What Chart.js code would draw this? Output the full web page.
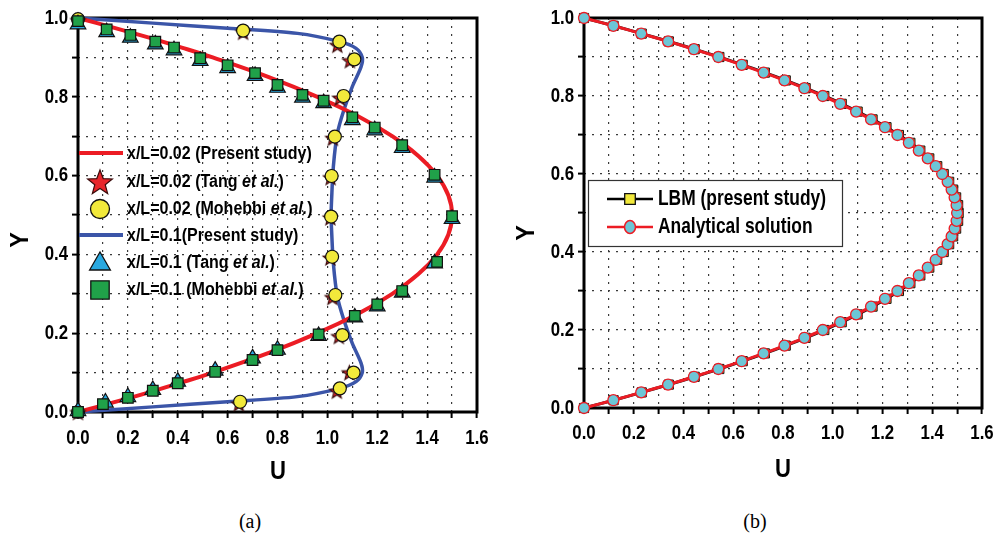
<!DOCTYPE html>
<html>
<head>
<meta charset="utf-8">
<script src="https://cdn.jsdelivr.net/npm/chart.js@4.4.0/dist/chart.umd.min.js"></script>
<style>
  body { margin: 0; background: #fff; width: 997px; height: 537px; position: relative; overflow: hidden; }
  .box { position: absolute; top: 0; height: 480px; }
  #boxA { left: 0; width: 500px; }
  #boxB { left: 505px; width: 492px; }
  .cap { position: absolute; top: 509px; width: 40px; text-align: center; line-height: 24px;
         font-family: 'Liberation Serif', 'DejaVu Serif', serif; font-size: 20px; color: #000; }
</style>
</head>
<body>
<div class="box" id="boxA"><canvas id="chartA"></canvas></div>
<div class="box" id="boxB"><canvas id="chartB"></canvas></div>
<div class="cap" style="left:230px">(a)</div>
<div class="cap" style="left:735px">(b)</div>

<script>
// ---------- data, panel (a) ----------
// x/L=0.02 present study (red curve)
const redU = [0, 0.146, 0.285, 0.416, 0.54, 0.765, 0.96, 1.125, 1.26, 1.365, 1.44, 1.485, 1.5,
              1.485, 1.44, 1.365, 1.26, 1.125, 0.96, 0.765, 0.54, 0.416, 0.285, 0.146, 0];
const redY = [0, 0.025, 0.05, 0.075, 0.1, 0.15, 0.2, 0.25, 0.3, 0.35, 0.4, 0.45, 0.5,
              0.55, 0.6, 0.65, 0.7, 0.75, 0.8, 0.85, 0.9, 0.925, 0.95, 0.975, 1.0];
// x/L=0.1 present study (blue curve)
const blueU = [0, 0.3, 0.6, 0.88, 1.05, 1.115, 1.14, 1.135, 1.10, 1.068, 1.04, 1.024, 1.017, 1.015,
               1.017, 1.024, 1.04, 1.068, 1.10, 1.135, 1.14, 1.115, 1.05, 0.88, 0.6, 0.3, 0];
const blueY = [1.0, 0.987, 0.974, 0.961, 0.94, 0.923, 0.9, 0.876, 0.826, 0.77, 0.707, 0.623, 0.54, 0.5,
               0.46, 0.377, 0.293, 0.23, 0.174, 0.124, 0.1, 0.077, 0.06, 0.039, 0.026, 0.013, 0];
// x/L=0.02 Tang et al. (stars)
const starU = [0, 0.645, 1.038, 1.088, 1.046, 1.02, 1.012, 1.012, 1.013, 1.022, 1.05, 1.09, 1.04, 0.662, 0];
const starY = [0, 0.022, 0.054, 0.101, 0.193, 0.292, 0.392, 0.494, 0.596, 0.696, 0.798, 0.893, 0.932, 0.965, 0.995];
// x/L=0.02 Mohebbi et al. (circles)
const cirU = [0, 0.65, 1.05, 1.105, 1.06, 1.032, 1.019, 1.015, 1.017, 1.03, 1.065, 1.108, 1.048, 0.662, 0];
const cirY = [0, 0.026, 0.060, 0.100, 0.195, 0.297, 0.394, 0.496, 0.599, 0.699, 0.802, 0.895, 0.940, 0.968, 0.997];
// x/L=0.1 Tang et al. (triangles)
const triU = [0, 0.11, 0.20, 0.30, 0.40, 0.55, 0.70, 0.80, 0.965, 1.11, 1.20, 1.30, 1.43, 1.50, 1.43,
              1.30, 1.19, 1.10, 0.985, 0.90, 0.80, 0.71, 0.60, 0.49, 0.385, 0.31, 0.21, 0.115, 0];
const triY = [0.002, 0.024, 0.038, 0.056, 0.077, 0.105, 0.136, 0.158, 0.193, 0.240, 0.268, 0.303, 0.377, 0.490, 0.595,
              0.670, 0.715, 0.741, 0.784, 0.798, 0.823, 0.853, 0.873, 0.891, 0.918, 0.933, 0.950, 0.964, 0.984];
// x/L=0.1 Mohebbi et al. (squares)
const sqU = [0, 0.10, 0.20, 0.30, 0.40, 0.55, 0.70, 0.80, 0.965, 1.11, 1.20, 1.30, 1.44, 1.50, 1.43,
             1.30, 1.19, 1.10, 0.985, 0.90, 0.80, 0.71, 0.60, 0.49, 0.385, 0.31, 0.21, 0.115, 0];
const sqY = [0, 0.020, 0.036, 0.054, 0.073, 0.102, 0.132, 0.157, 0.197, 0.244, 0.273, 0.307, 0.381, 0.497, 0.602,
             0.677, 0.722, 0.748, 0.790, 0.805, 0.830, 0.860, 0.880, 0.898, 0.925, 0.940, 0.957, 0.971, 0.992];

// ---------- data, panel (b) ----------
const nodeY = [0, 0.02, 0.04, 0.06, 0.08, 0.10, 0.12, 0.14, 0.16, 0.18, 0.20, 0.22, 0.24, 0.26, 0.28, 0.30, 0.32,
               0.34, 0.36, 0.38, 0.40, 0.42, 0.44, 0.46, 0.48, 0.50, 0.52, 0.54, 0.56, 0.58, 0.60, 0.62, 0.64,
               0.66, 0.68, 0.70, 0.72, 0.74, 0.76, 0.78, 0.80, 0.82, 0.84, 0.86, 0.88, 0.90, 0.92, 0.94, 0.96, 0.98, 1.0];
const anaU = [0, 0.118, 0.230, 0.338, 0.442, 0.540, 0.634, 0.722, 0.806, 0.886, 0.960, 1.030, 1.094, 1.154, 1.210,
              1.260, 1.306, 1.346, 1.382, 1.414, 1.440, 1.462, 1.478, 1.490, 1.498, 1.500, 1.498, 1.490, 1.478,
              1.462, 1.440, 1.414, 1.382, 1.346, 1.306, 1.260, 1.210, 1.154, 1.094, 1.030, 0.960, 0.886, 0.806,
              0.722, 0.634, 0.540, 0.442, 0.338, 0.230, 0.118, 0];
const lbmU = [0, 0.119, 0.232, 0.341, 0.445, 0.544, 0.638, 0.727, 0.811, 0.891, 0.966, 1.036, 1.100, 1.160, 1.216,
              1.266, 1.312, 1.352, 1.388, 1.420, 1.446, 1.468, 1.484, 1.496, 1.504, 1.506, 1.504, 1.496, 1.484,
              1.468, 1.446, 1.420, 1.388, 1.352, 1.312, 1.266, 1.216, 1.160, 1.100, 1.036, 0.966, 0.891, 0.811,
              0.727, 0.638, 0.544, 0.445, 0.341, 0.232, 0.119, 0];

const fontFam = "'Liberation Sans', Arial, sans-serif";

const zip = (u, y) => u.map((v, i) => ({ x: v, y: y[i] }));

function makeStar(outer, inner) {
  const c = document.createElement('canvas');
  const s = Math.ceil(outer * 2 + 4);
  c.width = c.height = s;
  const g = c.getContext('2d');
  g.beginPath();
  for (let i = 0; i < 10; i++) {
    const r = i % 2 ? inner : outer;
    const a = -Math.PI / 2 + i * Math.PI / 5;
    g.lineTo(s / 2 + r * Math.cos(a), s / 2 + 1 + r * Math.sin(a));
  }
  g.closePath();
  g.fillStyle = '#e8262b';
  g.fill();
  g.lineWidth = 1.2;
  g.strokeStyle = '#3b0c0c';
  g.stroke();
  return c;
}
const starSmall = makeStar(7.5, 3.2);
const starBig = makeStar(13, 5.5);

function axis(max, fixed, isX) {
  return {
    type: 'linear',
    min: 0,
    max: max,
    ticks: { stepSize: 0.1, autoSkip: false, display: false },
    grid: {
      color: c => (c.tick && c.tick.value > 1e-6 && c.tick.value < max - 1e-6) ? '#3a3a3a' : 'rgba(0,0,0,0)',
      lineWidth: 1.2,
      tickColor: '#000',
      tickLength: 6,
      tickWidth: 2
    },
    border: { display: false, dash: [2, 6] },
    afterFit: s => { if (isX) s.height = fixed; else s.width = fixed; }
  };
}

// condensed text: the original figure uses a narrow bold face
function squeeze(ctx, parts, x, y, size, sx, align) {
  ctx.save();
  ctx.translate(x, y);
  ctx.scale(sx, 1);
  ctx.textBaseline = 'middle';
  ctx.textAlign = 'left';
  let w = 0;
  parts.forEach(p => {
    ctx.font = (p[1] ? 'italic ' : '') + 'bold ' + size + 'px ' + fontFam;
    w += ctx.measureText(p[0]).width;
  });
  let cx = align === 'center' ? -w / 2 : align === 'right' ? -w : 0;
  parts.forEach(p => {
    ctx.font = (p[1] ? 'italic ' : '') + 'bold ' + size + 'px ' + fontFam;
    ctx.fillText(p[0], cx, 0);
    cx += ctx.measureText(p[0]).width;
  });
  ctx.restore();
}

function frameAndTitles(chart, t) {
  const { ctx, chartArea: a } = chart;
  const xs = chart.scales.x, ys = chart.scales.y;
  ctx.save();
  ctx.strokeStyle = '#000';
  ctx.lineWidth = 3;
  ctx.strokeRect(a.left, a.top, a.right - a.left, a.bottom - a.top);
  ctx.fillStyle = '#000';
  xs.ticks.forEach((tk, i) => {
    if (i % 2) return;
    squeeze(ctx, [[tk.value.toFixed(1)]], xs.getPixelForValue(tk.value), a.bottom + t.dx, 21, 0.8, 'center');
  });
  ys.ticks.forEach((tk, i) => {
    if (i % 2) return;
    squeeze(ctx, [[tk.value.toFixed(1)]], a.left - 10, ys.getPixelForValue(tk.value), 21, 0.8, 'right');
  });
  squeeze(ctx, [['U']], t.ux, t.uy, 26, 0.85, 'center');
  ctx.translate(t.yx, t.yy);
  ctx.rotate(-Math.PI / 2);
  squeeze(ctx, [['Y']], 0, 0, 26, 0.9, 'center');
  ctx.restore();
}

function mark(ctx, style, r, fill, x, y) {
  ctx.fillStyle = fill;
  ctx.strokeStyle = '#111';
  ctx.lineWidth = 1.3;
  Chart.helpers.drawPoint(ctx, { pointStyle: style, radius: r, borderWidth: 1.3, rotation: 0 }, x, y);
}

const frameA = {
  id: 'frameA',
  beforeDatasetsDraw(chart) {
    frameAndTitles(chart, { dx: 26, ux: 278, uy: 472, yx: 21, yy: 240 });
  },
  afterDatasetsDraw(chart) {
    const ctx = chart.ctx;
    ctx.save();
    ctx.lineCap = 'butt';
    ctx.lineWidth = 4;
    ctx.strokeStyle = '#ec1c24';
    ctx.beginPath(); ctx.moveTo(79, 153); ctx.lineTo(123, 153); ctx.stroke();
    ctx.strokeStyle = '#3b55a8';
    ctx.beginPath(); ctx.moveTo(79, 235); ctx.lineTo(123, 235); ctx.stroke();
    mark(ctx, starBig, 13, '#e8262b', 100, 182);
    mark(ctx, 'circle', 9.5, '#f2e93b', 100, 209);
    mark(ctx, 'triangle', 12, '#29a9e1', 100, 264);
    mark(ctx, 'rect', 13, '#20a149', 100, 290);
    ctx.fillStyle = '#000';
    const fs = 18, sx = 0.89;
    squeeze(ctx, [['x/L=0.02 (Present study)']], 127, 154, fs, sx);
    squeeze(ctx, [['x/L=0.02 (Tang '], ['et al.', 1], [')']], 127, 182, fs, sx);
    squeeze(ctx, [['x/L=0.02 (Mohebbi '], ['et al.', 1], [')']], 127, 209, fs, sx);
    squeeze(ctx, [['x/L=0.1(Present study)']], 127, 236, fs, sx);
    squeeze(ctx, [['x/L=0.1 (Tang '], ['et al.', 1], [')']], 127, 263, fs, sx);
    squeeze(ctx, [['x/L=0.1 (Mohebbi '], ['et al.', 1], [')']], 127, 290, fs, sx);
    ctx.restore();
  }
};

const frameB = {
  id: 'frameB',
  beforeDatasetsDraw(chart) {
    frameAndTitles(chart, { dx: 25, ux: 278, uy: 470, yx: 22, yy: 233 });
  },
  afterDatasetsDraw(chart) {
    const ctx = chart.ctx;
    ctx.save();
    ctx.fillStyle = '#fff';
    ctx.fillRect(83, 180, 254, 67);
    ctx.strokeStyle = '#333';
    ctx.lineWidth = 1.2;
    ctx.strokeRect(83.5, 180.5, 254, 66);
    ctx.lineWidth = 2.5;
    ctx.strokeStyle = '#000';
    ctx.beginPath(); ctx.moveTo(102, 199); ctx.lineTo(148, 199); ctx.stroke();
    ctx.strokeStyle = '#ec1c24';
    ctx.beginPath(); ctx.moveTo(102, 227); ctx.lineTo(148, 227); ctx.stroke();
    mark(ctx, 'rect', 7.5, '#f2e93b', 125, 199);
    ctx.fillStyle = '#6cc6d6';
    ctx.strokeStyle = '#ec1c24';
    ctx.lineWidth = 1.5;
    ctx.beginPath(); ctx.ellipse(125, 227, 5.5, 6.5, 0, 0, Math.PI * 2); ctx.fill(); ctx.stroke();
    ctx.fillStyle = '#000';
    squeeze(ctx, [['LBM (present study)']], 153, 199, 22, 0.79);
    squeeze(ctx, [['Analytical solution']], 153, 227, 22, 0.79);
    ctx.restore();
  }
};

const common = {
  responsive: true,
  maintainAspectRatio: false,
  animation: false,
  events: [],
  plugins: { legend: { display: false }, tooltip: { enabled: false } }
};

new Chart(document.getElementById('chartA'), {
  type: 'scatter',
  data: {
    datasets: [
      { data: zip(sqU, sqY), pointStyle: 'rect', pointRadius: 7.5, backgroundColor: '#20a149',
        borderColor: '#111', borderWidth: 1.2, order: 1, clip: false },
      { data: zip(triU, triY), pointStyle: 'triangle', pointRadius: 9, backgroundColor: '#29a9e1',
        borderColor: '#111', borderWidth: 1.2, order: 2, clip: false },
      { data: zip(cirU, cirY), pointStyle: 'circle', pointRadius: 6.5, backgroundColor: '#f2e93b',
        borderColor: '#111', borderWidth: 1.2, order: 3, clip: false },
      { data: zip(starU, starY), pointStyle: starSmall, pointRadius: 7, backgroundColor: '#e8262b',
        order: 4, clip: false },
      { data: zip(redU, redY), showLine: true, borderColor: '#ec1c24', borderWidth: 4, pointRadius: 0,
        tension: 0.4, order: 5, clip: false },
      { data: zip(blueU, blueY), showLine: true, borderColor: '#3b55a8', borderWidth: 3.5, pointRadius: 0,
        tension: 0.3, order: 6, clip: false }
    ]
  },
  options: Object.assign({}, common, {
    layout: { padding: { left: 0, top: 18, right: 23, bottom: 0 } },
    scales: { x: axis(1.6, 68, true), y: axis(1.0, 78, false) }
  }),
  plugins: [frameA]
});

new Chart(document.getElementById('chartB'), {
  type: 'scatter',
  data: {
    datasets: [
      { data: zip(anaU, nodeY), showLine: true, borderColor: '#ec1c24', borderWidth: 3, tension: 0.3,
        pointStyle: 'circle', pointRadius: 5.5, backgroundColor: '#6cc6d6', pointBorderColor: '#ec1c24',
        pointBorderWidth: 1.3, order: 1, clip: false },
      { data: zip(lbmU, nodeY), showLine: true, borderColor: '#111', borderWidth: 3, tension: 0.3,
        pointStyle: 'rect', pointRadius: 6.5, backgroundColor: '#d9a21e', pointBackgroundColor: '#e0a625',
        pointBorderColor: '#111', pointBorderWidth: 1, order: 2, clip: false }
    ]
  },
  options: Object.assign({}, common, {
    layout: { padding: { left: 0, top: 18, right: 15, bottom: 0 } },
    scales: { x: axis(1.6, 72, true), y: axis(1.0, 79, false) }
  }),
  plugins: [frameB]
});
</script>
</body>
</html>
